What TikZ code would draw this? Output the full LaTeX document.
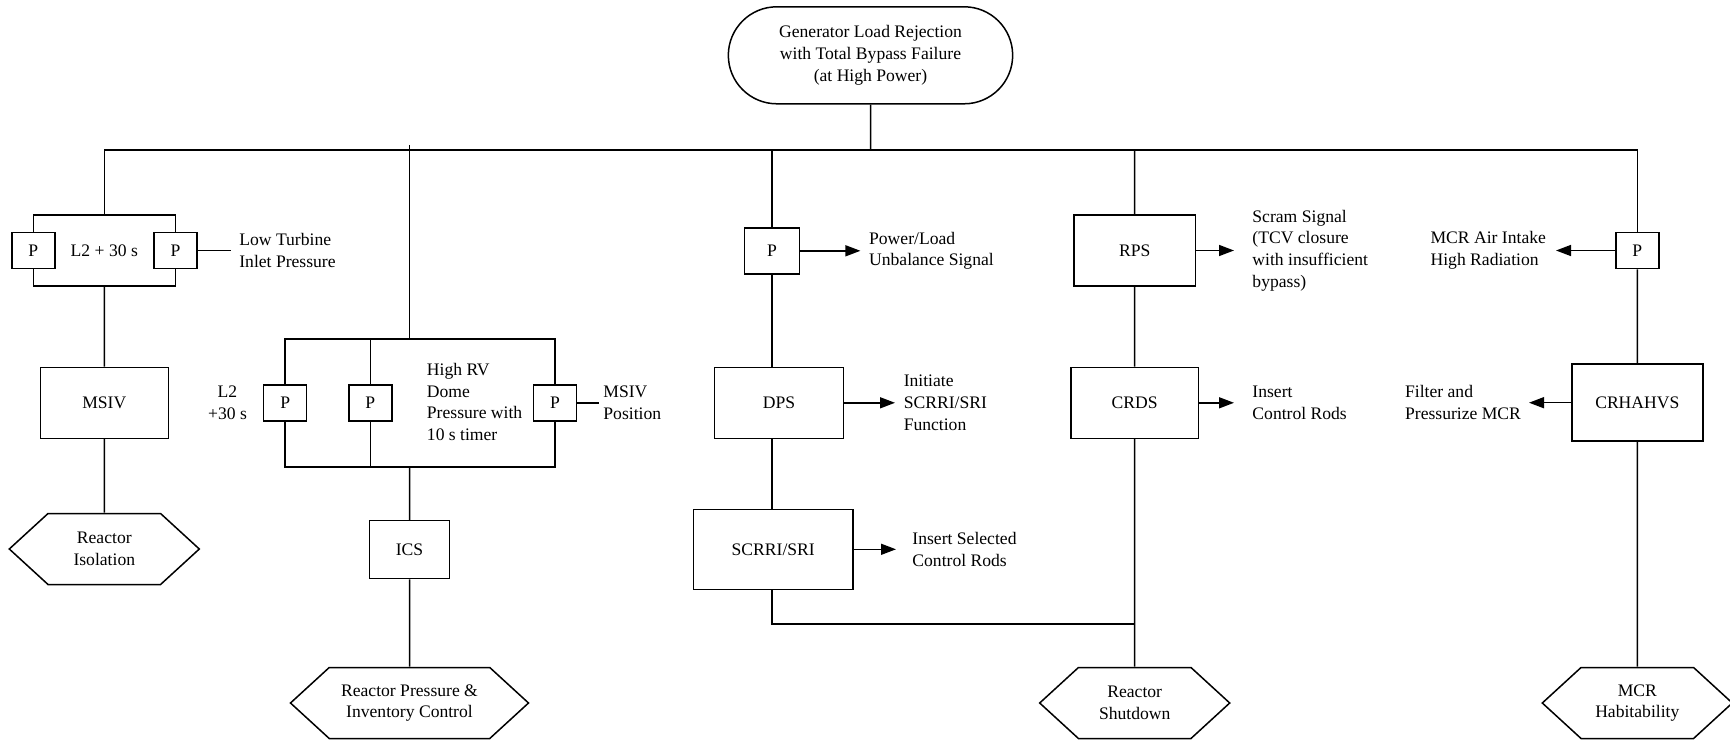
\documentclass[tikz,border=0pt]{standalone}
\usepackage{fontspec}
\setmainfont{Liberation Serif}
\usetikzlibrary{arrows.meta}
\usetikzlibrary{shapes.misc}
\usetikzlibrary{shapes.symbols}

\newcommand{\diagfont}{\fontsize{17.6}{21.6}\selectfont}

\begin{document}
\begin{tikzpicture}[x=1pt, y=-1pt, line width=1.5pt,
  every node/.style={font=\diagfont},
  sysbox/.style 2 args={draw, fill=white, align=center, inner sep=0pt, minimum width=#1, minimum height=#2},
  pbox/.style={draw, fill=white, inner sep=0pt, minimum width=43pt, minimum height=36pt},
  goal/.style={draw, fill=white, align=center, inner sep=0pt, signal, signal to=east and west, signal pointer angle=85, minimum width=#1, minimum height=71pt},
  event/.style={draw, align=center, rounded rectangle, minimum width=291pt, minimum height=97pt},
  lbl/.style={align=left, inner ysep=0pt, inner xsep=8pt},
  sig/.style={->, >={Triangle[length=15pt, width=11pt]}}]
\useasboundingbox (0,0) rectangle (1730,741);

\node[event] (glr) at (870.5,55.3) {Generator Load Rejection\\with Total Bypass Failure\\(at High Power)};
\coordinate (b1) at (104.3,150);
\coordinate (b2) at (409.5,145);
\coordinate (b5) at (1637.3,150);

\coordinate (f1t) at (104.3,215);
\coordinate (f1b) at (104.3,286);
\node[pbox] (pa) at (33.3,250.5) {P};
\node[pbox] (pb) at (175.4,250.5) {P};
\node (l2a) at (104.3,250.5) {L2 + 30 s};
\node[lbl, anchor=west] (ltip) at (230.6,250.5) {Low Turbine\\Inlet Pressure};
\node[sysbox={128pt}{71pt}] (msiv) at (104.3,402.8) {MSIV};
\node[goal=190pt] (riso) at (104.3,549) {Reactor\\Isolation};

\coordinate (f2t) at (409.5,339);
\coordinate (f2b) at (409.5,467);
\foreach \n/\x in {qa/285.2, qb/370.3, qc/555} {
  \node[pbox] (\n) at (\x,402.8) {P};
}
\node[align=center] (l2b) at (227.5,402.5) {L2\\+30 s};
\node[lbl, anchor=west] (hrv) at (418.2,402) {High RV\\Dome\\Pressure with\\10 s timer};
\node[lbl, anchor=west, inner xsep=3.7pt] (msivp) at (599,402.8) {MSIV\\Position};
\node[sysbox={80pt}{58pt}] (ics) at (409.5,549.5) {ICS};
\node[goal=238pt] (rpic) at (409.5,703) {Reactor Pressure \&\\Inventory Control};

\node[pbox, minimum width=55pt, minimum height=46pt] (pdps) at (772,250.8) {P};
\node[lbl, anchor=west] (plus) at (860.4,250.8) {Power/Load\\Unbalance Signal};
\node[sysbox={128.6pt}{71pt}] (dps) at (779,402.8) {DPS};
\node[lbl, anchor=west] (isf) at (895,402.8) {Initiate\\SCRRI/SRI\\Function};
\node[sysbox={159.7pt}{80pt}] (scr) at (773.2,549.3) {SCRRI/SRI};
\node[lbl, anchor=west, inner xsep=15.7pt] (iscr) at (896,549.3) {Insert Selected\\Control Rods};

\node[sysbox={121.5pt}{71pt}] (rps) at (1134.7,250.5) {RPS};
\node[lbl, anchor=west, inner xsep=17.7pt] (scram) at (1234,250.5) {Scram Signal\\(TCV closure\\with insufficient\\bypass)};
\node[sysbox={127.6pt}{71pt}] (crds) at (1134.7,402.8) {CRDS};
\node[lbl, anchor=west, inner xsep=17.7pt] (icr) at (1234,402.8) {Insert\\Control Rods};
\coordinate (merge) at (1134.7,624);
\node[goal=190pt] (rshut) at (1134.7,703) {Reactor\\Shutdown};

\node[pbox] (pmcr) at (1637.3,250.5) {P};
\node[lbl, anchor=east, inner xsep=9.3pt] (mair) at (1556,250.5) {MCR Air Intake\\High Radiation};
\node[sysbox={131pt}{77pt}] (crh) at (1637.3,402.7) {CRHAHVS};
\node[lbl, anchor=east, inner xsep=7.3pt] (fpm) at (1529,402.7) {Filter and\\Pressurize MCR};
\node[goal=190pt] (mhab) at (1637.3,703) {MCR\\Habitability};

\draw (glr) -- (glr |- b1);
\draw (f1t) -- (b1) -- (b5) -- (pmcr);
\draw (pa.north) |- (f1t) -| (pb.north);
\draw (pa.south) |- (f1b) -| (pb.south);
\draw (pb.east) -- (ltip.west);
\draw (f1b) -- (msiv) -- (riso);

\draw (b2) -- (f2t);
\draw (qa.north) |- (f2t) -| (qc.north);
\draw (qa.south) |- (f2b) -| (qc.south);
\draw (qb.north) -- (qb |- f2t);
\draw (qb.south) -- (qb |- f2b);
\draw (qc.east) -- (msivp.west);
\draw (f2b) -- (ics) -- (rpic);

\draw (pdps |- b1) -- (pdps);
\draw[sig] (pdps.east) -- (plus.west);
\draw (pdps) -- (pdps |- dps.north);
\draw[sig] (dps.east) -- (isf.west);
\draw (pdps |- dps.south) -- (pdps |- scr.north);
\draw[sig] (scr.east) -- (iscr.west);
\draw (pdps |- scr.south) |- (merge);

\draw (rps |- b1) -- (rps) -- (crds) -- (rshut);
\draw[sig] (rps.east) -- (scram.west);
\draw[sig] (crds.east) -- (icr.west);

\draw (pmcr) -- (crh) -- (mhab);
\draw[sig] (pmcr.west) -- (mair.east);
\draw[sig] (crh.west) -- (fpm.east);
\end{tikzpicture}
\end{document}
